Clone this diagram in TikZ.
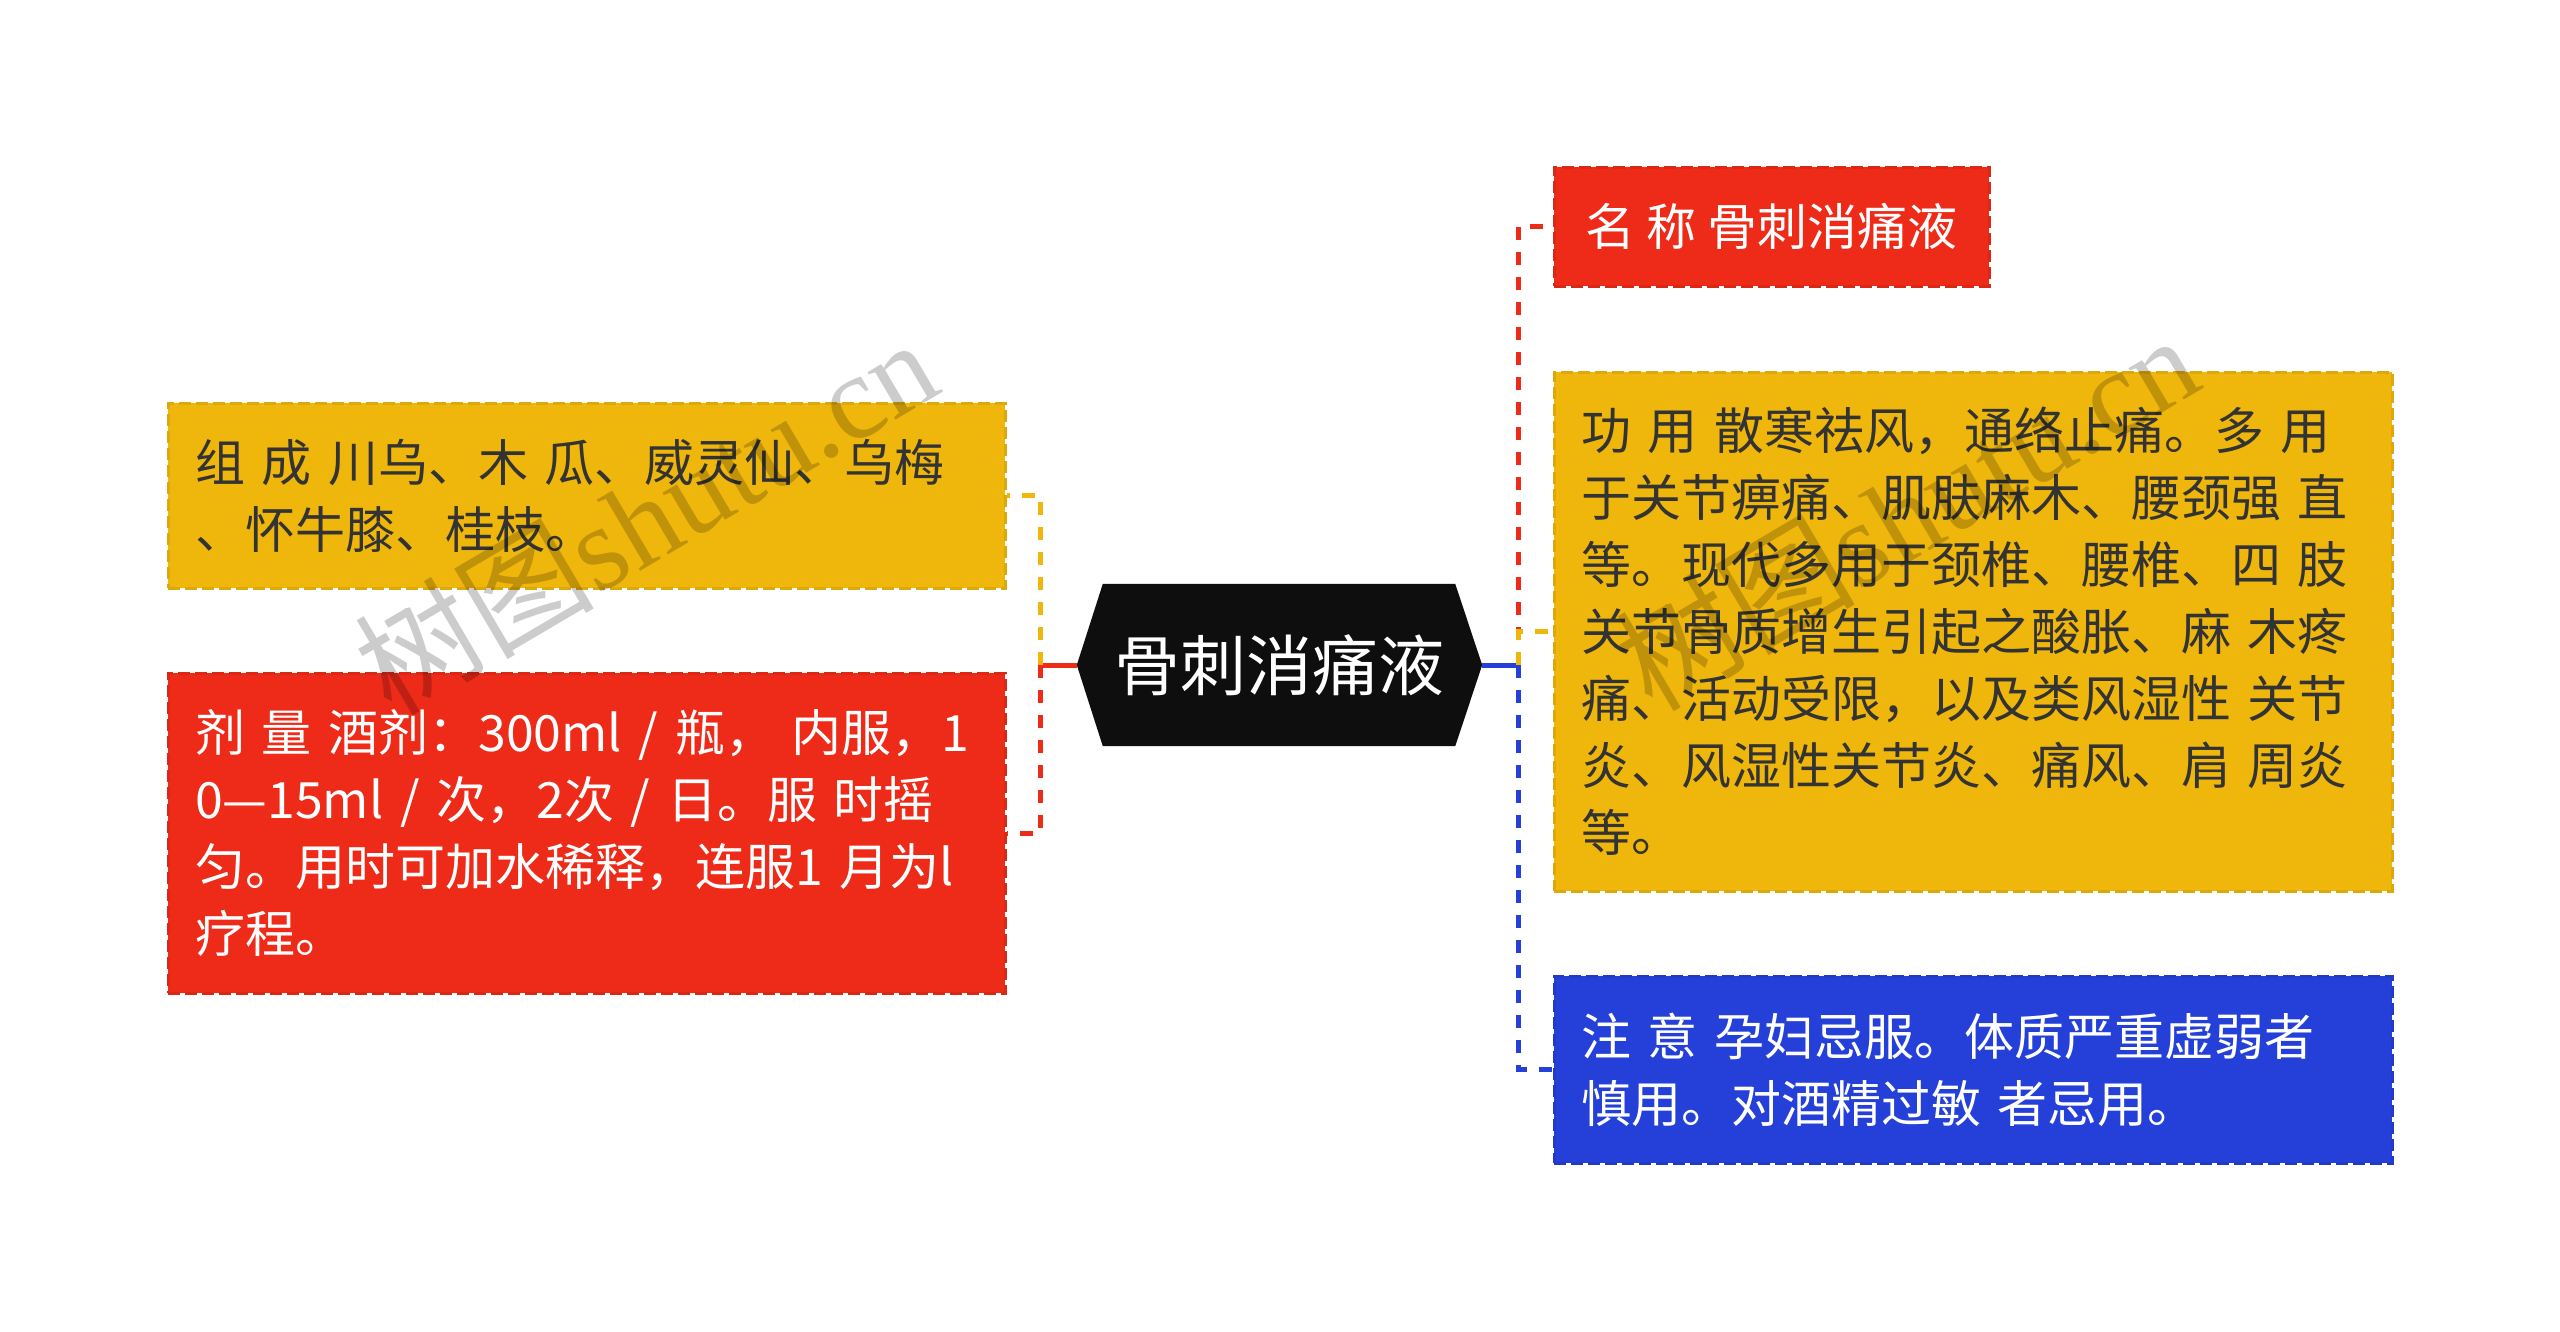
\documentclass[tikz,border=0pt]{standalone}
\usepackage{fontspec}
\setmainfont{Noto Sans CJK SC}
\newfontfamily\wmcjk{Noto Sans CJK SC}
\newfontfamily\wmlat{Liberation Serif}
\usetikzlibrary{backgrounds}
\definecolor{myyel}{HTML}{EFB70C}
\definecolor{myred}{HTML}{EE2A18}
\definecolor{myblue}{HTML}{2540D8}
\definecolor{hexblack}{HTML}{0E0E0E}
\definecolor{ytext}{HTML}{333333}
\tikzset{
  box/.style={rectangle, inner xsep=27pt, inner ysep=0pt, align=left,
    line width=3pt, dash pattern=on 12pt off 5pt,
    font=\fontsize{50}{67}\selectfont},
  ybox/.style={box, fill=myyel, draw=myyel!92!black, text=ytext},
  rbox/.style={box, fill=myred, draw=myred!92!black, text=white},
  bbox/.style={box, fill=myblue, draw=myblue!92!black, text=white},
  conn/.style={line width=5pt},
  dconn/.style={line width=5pt, dash pattern=on 13pt off 12pt},
  wm/.style={text=black, opacity=0.2, rotate=30.5, inner sep=0pt}
}
\begin{document}
\begin{tikzpicture}[x=1pt,y=-1pt]
\useasboundingbox (0,0) rectangle (2560,1331);

% central node
\node[text=white, font=\fontsize{66}{70}\selectfont, minimum width=405pt, minimum height=162pt, inner sep=0pt] (c) at (1279.5,665) {骨刺消痛液};
\begin{scope}[on background layer]
\fill[white] (0,0) rectangle (2560,1331);
\fill[hexblack] (c.west) -- ([xshift=26pt]c.north west) -- ([xshift=-27pt]c.north east) -- (c.east) -- ([xshift=-27pt]c.south east) -- ([xshift=26pt]c.south west) -- cycle;
\end{scope}

% left boxes
\node[ybox, text width=783pt, minimum height=185pt] (lyel) at (586.5,495.5)
  {组 成 川乌、木 瓜、威灵仙、乌梅\\、怀牛膝、桂枝。};
\node[rbox, text width=783pt, minimum height=320pt] (lred) at (586.5,833)
  {剂 量 酒剂：300ml / 瓶， 内服，1\\0—15ml / 次，2次 / 日。服 时摇\\匀。用时可加水稀释，连服1 月为l\\疗程。};

% right boxes
\node[rbox, inner xsep=0pt, minimum width=435pt, minimum height=119pt] (rred) at (1771.5,226.5)
  {名 称 骨刺消痛液};
\node[ybox, text width=784pt, minimum height=519pt] (ryel) at (1973,631.5)
  {功 用 散寒祛风，通络止痛。多 用\\于关节痹痛、肌肤麻木、腰颈强 直\\等。现代多用于颈椎、腰椎、四 肢\\关节骨质增生引起之酸胀、麻 木疼\\痛、活动受限，以及类风湿性 关节\\炎、风湿性关节炎、痛风、肩 周炎\\等。};
\node[bbox, text width=784pt, minimum height=187pt] (rblue) at (1973,1069.5)
  {注 意 孕妇忌服。体质严重虚弱者\\慎用。对酒精过敏 者忌用。};

% trunks
\coordinate (lt) at (1040,665);
\coordinate (rt) at (1518,665);

% left connectors
\draw[conn, myred] (c.west) -- (lt);
\draw[dconn, myyel] (lt) |- (lyel.east);
\draw[dconn, myred] (lt) |- (lred.east);

% right connectors
\draw[conn, myblue] (c.east) -- (rt);
\draw[dconn, myred] (rt) |- (rred.west);
\draw[dconn, myyel] (rt) |- (ryel.west);
\draw[dconn, myblue] (rt) |- (rblue.west);

% watermarks
\node[wm] (wm1) at (645,515) {\fontsize{120}{120}\selectfont\wmcjk 树图\wmlat shutu.cn};
\node[wm] (wm2) at (1906,511) {\fontsize{120}{120}\selectfont\wmcjk 树图\wmlat shutu.cn};
\end{tikzpicture}
\end{document}
